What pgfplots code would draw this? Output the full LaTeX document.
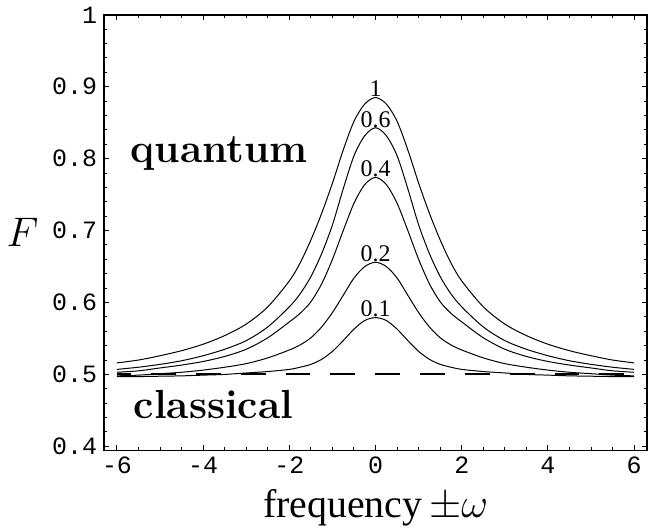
\documentclass[border=0pt]{standalone}
\usepackage{fontspec}
\usepackage{pgfplots}
\pgfplotsset{compat=1.18}
\usepackage{pgfplotstable}
\newfontfamily\monofont{Liberation Mono}
\newfontfamily\timesfont{Liberation Serif}

% fidelity F against detuning, one column per curve label
\pgfplotstableread{
x     c1     c06    c04    c02    c01
-6    0.516  0.507  0.503  0.498  0.497
-5.5  0.520  0.510  0.505  0.499  0.497
-5    0.526  0.514  0.509  0.501  0.4975
-4.5  0.533  0.519  0.513  0.503  0.498
-4    0.542  0.526  0.518  0.506  0.499
-3.5  0.554  0.535  0.525  0.510  0.500
-3    0.570  0.547  0.535  0.515  0.502
-2.5  0.594  0.566  0.551  0.523  0.504
-2    0.630  0.594  0.573  0.534  0.507
-1.75 0.655  0.612  0.585  0.541  0.510
-1.5  0.687  0.636  0.601  0.551  0.514
-1.25 0.724  0.668  0.626  0.566  0.521
-1    0.766  0.708  0.660  0.586  0.532
-0.75 0.812  0.758  0.700  0.610  0.547
-0.5  0.852  0.804  0.738  0.634  0.563
-0.25 0.876  0.832  0.764  0.650  0.575
0     0.885  0.843  0.774  0.656  0.579
0.25  0.876  0.832  0.764  0.650  0.575
0.5   0.852  0.804  0.738  0.634  0.563
0.75  0.812  0.758  0.700  0.610  0.547
1     0.766  0.708  0.660  0.586  0.532
1.25  0.724  0.668  0.626  0.566  0.521
1.5   0.687  0.636  0.601  0.551  0.514
1.75  0.655  0.612  0.585  0.541  0.510
2     0.630  0.594  0.573  0.534  0.507
2.5   0.594  0.566  0.551  0.523  0.504
3     0.570  0.547  0.535  0.515  0.502
3.5   0.554  0.535  0.525  0.510  0.500
4     0.542  0.526  0.518  0.506  0.499
4.5   0.533  0.519  0.513  0.503  0.498
5     0.526  0.514  0.509  0.501  0.4975
5.5   0.520  0.510  0.505  0.499  0.497
6     0.516  0.507  0.503  0.498  0.497
}\fidelity

\begin{document}
\begin{tikzpicture}
\begin{axis}[
  width=272.5pt, height=218.5pt, scale only axis,
  xmin=-6.3, xmax=6.3, ymin=0.3945, ymax=1,
  xtick={-6,-4,-2,0,2,4,6},
  xticklabels={-6,-4,-2,0,2,4,6},
  ytick={0.4,0.5,0.6,0.7,0.8,0.9,1},
  yticklabels={0.4,0.5,0.6,0.7,0.8,0.9,1},
  minor x tick num=3, minor y tick num=4,
  tick align=inside,
  major tick length=2.5pt, minor tick length=1.5pt,
  tick style={line width=0.5pt, black},
  axis line style={line width=0.75pt},
  ticklabel style={font=\monofont\fontsize{12.5}{14}\selectfont},
  xlabel={\timesfont\fontsize{20}{24}\selectfont frequency\,$\pm\omega$},
  xlabel style={yshift=-3pt, inner sep=1pt},
  ylabel={\fontsize{20.5}{24}\selectfont$F$},
  ylabel style={rotate=-90},
  every axis plot/.append style={black},
]
\addplot[line width=1pt, dash pattern=on 12.5pt off 10pt, dash phase=5.4pt]
  coordinates {(-6,0.5) (6,0.5)};
\addplot[line width=0.5pt, smooth] table[x=x, y=c1] {\fidelity};
\addplot[line width=0.5pt, smooth] table[x=x, y=c06] {\fidelity};
\addplot[line width=0.5pt, smooth] table[x=x, y=c04] {\fidelity};
\addplot[line width=0.5pt, smooth] table[x=x, y=c02] {\fidelity};
\addplot[line width=0.5pt, smooth] table[x=x, y=c01] {\fidelity};

\begin{scope}[every node/.style={anchor=base, inner sep=0pt, font=\timesfont\fontsize{12}{14}\selectfont}]
\node at (axis cs:0,0.886) {1};
\node at (axis cs:0,0.844) {0.6};
\node at (axis cs:0,0.775) {0.4};
\node at (axis cs:0,0.657) {0.2};
\node at (axis cs:0,0.580) {0.1};
\end{scope}

\node[anchor=base west, inner sep=0pt, font=\bfseries\fontsize{20.4}{24}\selectfont]
  at (axis cs:-5.69,0.795) {quantum};
\node[anchor=base west, inner sep=0pt, font=\bfseries\fontsize{20.4}{24}\selectfont]
  at (axis cs:-5.62,0.439) {classical};
\end{axis}
\path (current axis.north east) ++(7pt,5pt);
\end{tikzpicture}
\end{document}
